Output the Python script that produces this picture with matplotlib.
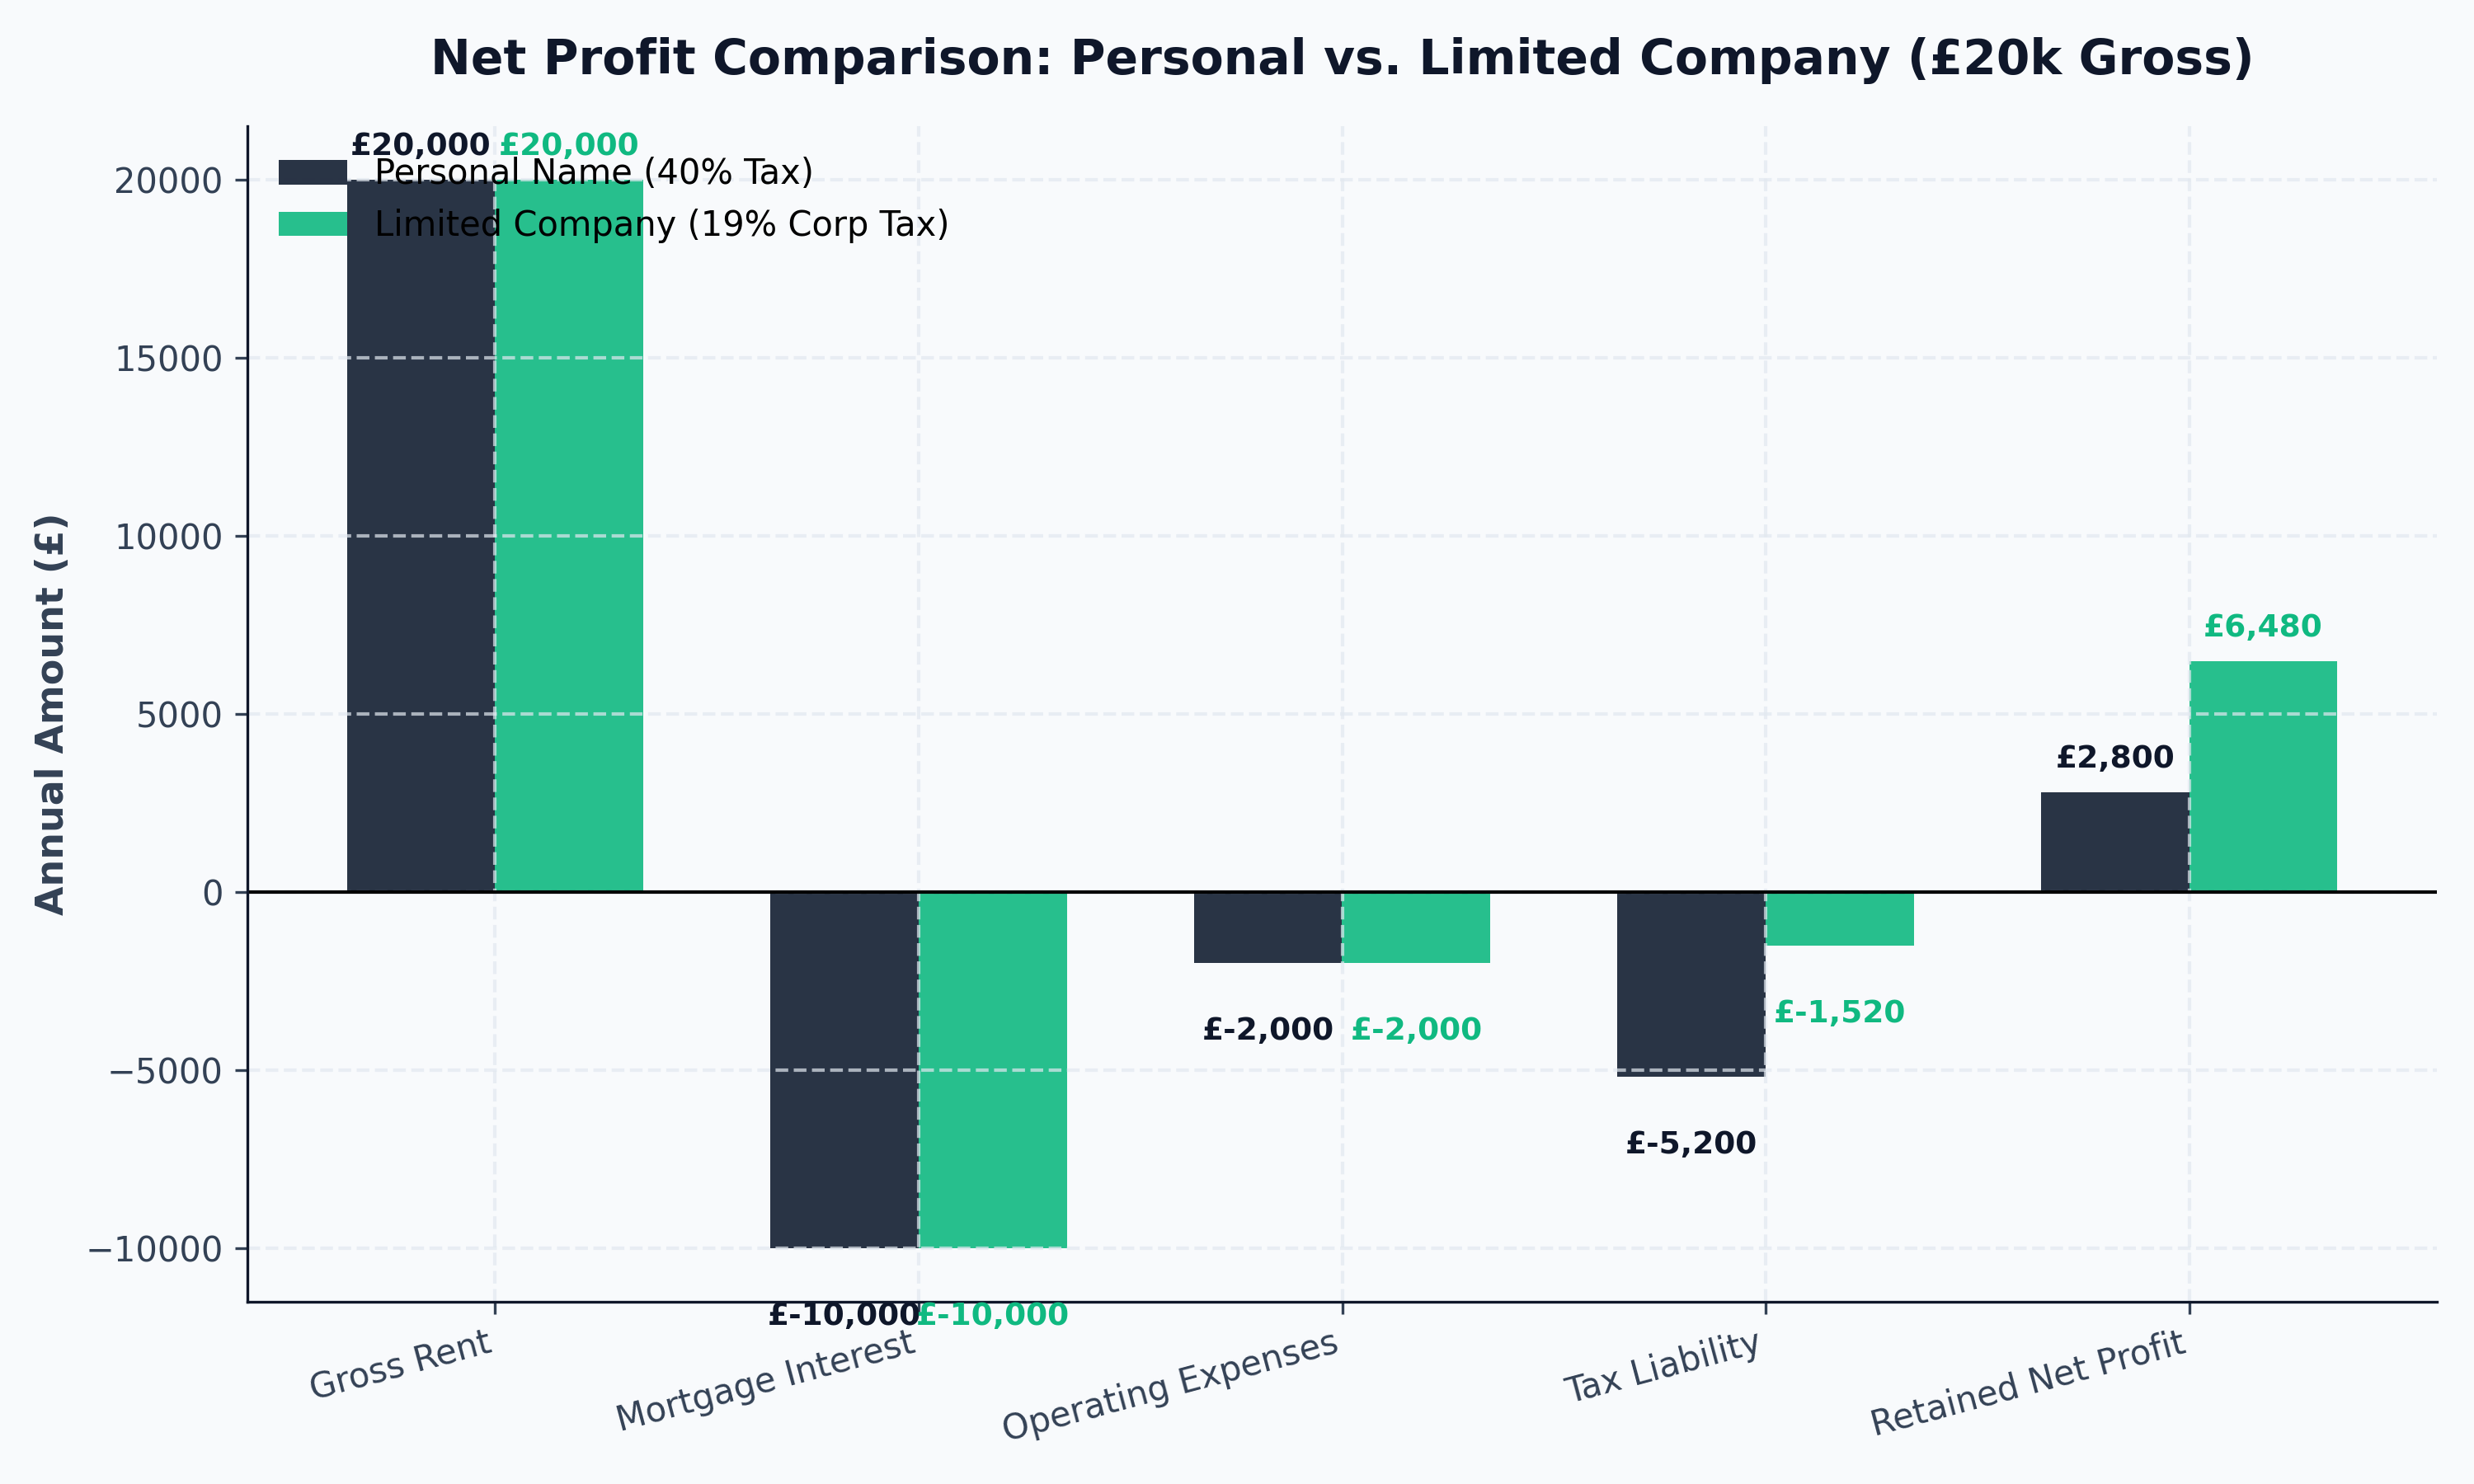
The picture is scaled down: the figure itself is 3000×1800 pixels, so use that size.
import matplotlib
matplotlib.use("Agg")
import matplotlib.pyplot as plt
import numpy as np

# data
categories = ['Gross Rent', 'Mortgage Interest', 'Operating Expenses', 'Tax Liability', 'Retained Net Profit']
personal = [20000, -10000, -2000, -5200, 2800]
limited = [20000, -10000, -2000, -1520, 6480]
series_names = ['Personal Name (40% Tax)', 'Limited Company (19% Corp Tax)']

dark = '#1e293b'
green = '#10b981'

fig, ax = plt.subplots(figsize=(10, 6), dpi=300)
fig.patch.set_facecolor('#f8fafc')
ax.set_facecolor('#f8fafc')

x = np.arange(len(categories))
w = 0.35
b1 = ax.bar(x - w/2, personal, w, color=dark, alpha=0.95, label=series_names[0])
b2 = ax.bar(x + w/2, limited, w, color=green, alpha=0.9, label=series_names[1])

ax.axhline(0, color='black', linewidth=1)

# value labels
for bars, col in [(b1, '#0f172a'), (b2, green)]:
    for b in bars:
        h = b.get_height()
        cx = b.get_x() + b.get_width()/2
        if h >= 0:
            ax.text(cx, h + 500, f'£{h:,.0f}', ha='center', va='bottom',
                    fontsize=9, fontweight='bold', color=col)
        else:
            ax.text(cx, h - 1500, f'£{h:,.0f}', ha='center', va='top',
                    fontsize=9, fontweight='bold', color=col)

ax.set_title('Net Profit Comparison: Personal vs. Limited Company (£20k Gross)',
             fontsize=14, fontweight='bold', color='#0f172a', pad=15)
ax.set_ylabel('Annual Amount (£)', fontsize=11, fontweight='bold', color='#334155')
ax.set_xticks(x)
ax.set_xticklabels(categories, rotation=15, ha='right', fontsize=10, color='#334155')
ax.tick_params(axis='y', labelsize=10, colors='#334155')
ax.tick_params(axis='x', colors='#334155')

ax.grid(True, linestyle='--', color='#e2e8f0', alpha=0.7, linewidth=1)
ax.spines['top'].set_visible(False)
ax.spines['right'].set_visible(False)
ax.spines['left'].set_color('#0f172a')
ax.spines['bottom'].set_color('#0f172a')

ax.legend(loc='upper left', frameon=False, fontsize=10)

plt.subplots_adjust(left=0.1, right=0.985, top=0.915, bottom=0.123)
plt.savefig('out.png', dpi=300, facecolor=fig.get_facecolor())
